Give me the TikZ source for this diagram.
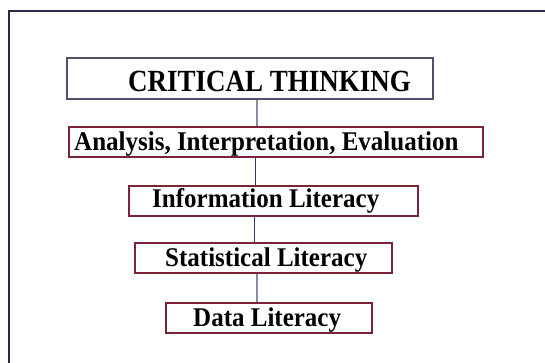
\documentclass[tikz,border=0pt]{standalone}
\usepackage{graphicx}
\usepackage{fontspec}
\setmainfont{Liberation Serif}
\definecolor{framecol}{HTML}{2D2848}
\definecolor{topbox}{HTML}{50506A}
\definecolor{redbox}{HTML}{7A2436}
\definecolor{graylink}{HTML}{8A8AA0}
\definecolor{navylink}{HTML}{3A3560}
\newcommand{\tallA}[1]{\scalebox{1}[1.14]{#1}}
\newcommand{\tallB}[1]{\scalebox{1}[1.08]{#1}}
\begin{document}
\begin{tikzpicture}[x=1pt,y=-1pt,
  frameline/.style={draw=framecol,line width=2.5pt},
  boxtop/.style={draw=topbox,line width=1.2pt,rectangle,inner sep=0pt},
  boxred/.style={draw=redbox,line width=1.2pt,rectangle,inner sep=0pt},
  lblbig/.style={inner sep=0pt,anchor=base west,font=\bfseries\fontsize{27}{30}\selectfont},
  lbl/.style={inner sep=0pt,anchor=base west,font=\bfseries\fontsize{25}{28}\selectfont},
  linkgray/.style={draw=graylink,line width=1.6pt},
  linknavy/.style={draw=navylink,line width=1pt}]
\useasboundingbox (0,0) rectangle (545,362);
\draw[frameline] (9,363) -- (9,11) -- (546,11);

\node[boxtop,minimum width=366pt,minimum height=41pt] (b1) at (250,78.5) {};
\node[boxred,minimum width=414pt,minimum height=30pt] (b2) at (276,142) {};
\node[boxred,minimum width=289pt,minimum height=30pt] (b3) at (273.5,201) {};
\node[boxred,minimum width=257pt,minimum height=30pt] (b4) at (263.5,258) {};
\node[boxred,minimum width=206pt,minimum height=30pt] (b5) at (269,318) {};

\node[lblbig] (t1) at (128,91) {\tallA{CRITICAL THINKING}};
\node[lbl] (t2) at (74,150) {\tallB{Analysis, Interpretation, Evaluation}};
\node[lbl] (t3) at (152,207.5) {\tallB{Information Literacy}};
\node[lbl] (t4) at (165,266) {\tallB{Statistical Literacy}};
\node[lbl] (t5) at (193,326) {\tallB{Data Literacy}};

\coordinate (k1) at (257,0);
\coordinate (k2) at (255,0);
\coordinate (k3) at (254,0);
\coordinate (k4) at (257,0);
\draw[linkgray] (b1.south -| k1) -- (b2.north -| k1);
\draw[linknavy] (b2.south -| k2) -- (b3.north -| k2);
\draw[linknavy] (b3.south -| k3) -- (b4.north -| k3);
\draw[linkgray] (b4.south -| k4) -- (b5.north -| k4);
\end{tikzpicture}
\end{document}
